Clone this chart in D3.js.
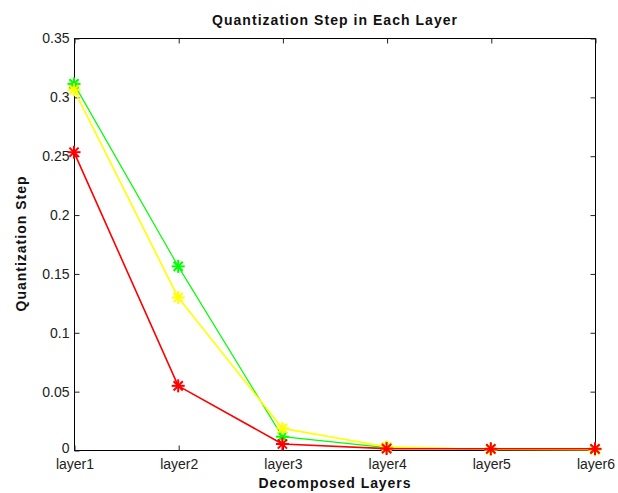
<!DOCTYPE html>
<html>
<head>
<meta charset="utf-8">
<script src="https://cdn.jsdelivr.net/npm/d3@7"></script>
<style>
  html, body { margin: 0; padding: 0; background: #fff; }
  svg { display: block; }
  text { font-family: Arial, "Liberation Sans", Helvetica, sans-serif; }
</style>
</head>
<body>
<svg id="chart" width="618" height="493"></svg>
<script>
// Layers along the x axis
const layers = ["layer1", "layer2", "layer3", "layer4", "layer5", "layer6"];
// Quantization step per layer, one array per curve
const greenSteps  = [0.311, 0.156, 0.0113, 0.0020, 0.0008, 0.0005];
const yellowSteps = [0.306, 0.1295, 0.0184, 0.0028, 0.0004, 0.0003];
const redSteps    = [0.253, 0.0545, 0.0051, 0.0012, 0.0010, 0.0010];
const yTicks = [0, 0.05, 0.1, 0.15, 0.2, 0.25, 0.3, 0.35];

const series = [
  { values: greenSteps,  color: "#00ff00", width: 1.2 },
  { values: yellowSteps, color: "#ffff00", width: 1.6 },
  { values: redSteps,    color: "#ff0000", width: 1.6 }
];

const margin = { left: 74, right: 23, top: 38, bottom: 43 };
const W = 618, H = 493;
const svg = d3.select("#chart");

const x = d3.scalePoint().domain(layers).range([margin.left, W - margin.right]);
const y = d3.scaleLinear().domain([0, 0.35]).range([H - margin.bottom, margin.top]);

const plotL = margin.left, plotR = W - margin.right, plotT = margin.top, plotB = H - margin.bottom;

// Axes box
svg.append("rect")
  .attr("x", plotL + 0.5).attr("y", plotT + 0.5)
  .attr("width", plotR - plotL).attr("height", plotB - plotT)
  .attr("fill", "#fff").attr("stroke", "#000").attr("stroke-width", 1);

const tickLen = 5;
const tickCol = "#222";
const tickFont = 14;

// Bottom axis labels and ticks (inward, mirrored at top)
const bottomAxis = svg.append("g").attr("transform", `translate(0.5,${plotB + 0.5})`)
  .call(d3.axisBottom(x).tickSizeInner(-tickLen).tickSizeOuter(0).tickPadding(4));
bottomAxis.select(".domain").remove();
bottomAxis.selectAll("text").attr("font-size", tickFont).attr("fill", "#222")
  .attr("dy", "0.71em").attr("y", 9);
bottomAxis.selectAll("line").attr("stroke", tickCol);

const topAxis = svg.append("g").attr("transform", `translate(0.5,${plotT + 0.5})`)
  .call(d3.axisTop(x).tickSizeInner(-tickLen).tickSizeOuter(0).tickFormat(""));
topAxis.select(".domain").remove();
topAxis.selectAll("line").attr("stroke", tickCol);

// Left axis with labels, right axis mirrored ticks only
const leftAxis = svg.append("g").attr("transform", `translate(${plotL + 0.5},0.5)`)
  .call(d3.axisLeft(y).tickValues(yTicks).tickSizeInner(-tickLen).tickSizeOuter(0)
    .tickPadding(4).tickFormat(d => String(+d.toFixed(2))));
leftAxis.select(".domain").remove();
leftAxis.selectAll("text").attr("font-size", tickFont).attr("fill", "#222").attr("x", -5)
  // the zero label sits right above the first category label, so lift it a touch
  .attr("y", d => (d === 0 ? -2 : 0));
leftAxis.selectAll("line").attr("stroke", tickCol);

const rightAxis = svg.append("g").attr("transform", `translate(${plotR + 0.5},0.5)`)
  .call(d3.axisRight(y).tickValues(yTicks).tickSizeInner(-tickLen).tickSizeOuter(0).tickFormat(""));
rightAxis.select(".domain").remove();
rightAxis.selectAll("line").attr("stroke", tickCol);

// Curves
const line = d3.line().x((d, i) => x(layers[i])).y(d => y(d));

const asterisk = (g, cx, cy, color) => {
  const r = 6.5;
  const star = g.append("g").attr("transform", `translate(${cx},${cy})`)
    .attr("stroke", color).attr("stroke-width", 2).attr("stroke-linecap", "butt");
  [0, 45, 90, 135].forEach(a => {
    const rad = a * Math.PI / 180;
    star.append("line")
      .attr("x1", -r * Math.cos(rad)).attr("y1", -r * Math.sin(rad))
      .attr("x2", r * Math.cos(rad)).attr("y2", r * Math.sin(rad));
  });
};

series.forEach(s => {
  const g = svg.append("g");
  g.append("path")
    .attr("d", line(s.values))
    .attr("fill", "none")
    .attr("stroke", s.color)
    .attr("stroke-width", s.width)
    .attr("stroke-linejoin", "round");
  s.values.forEach((v, i) => asterisk(g, x(layers[i]), y(v), s.color));
});

// Titles
svg.append("text")
  .attr("x", (plotL + plotR) / 2).attr("y", 25)
  .attr("text-anchor", "middle")
  .attr("font-size", 14).attr("font-weight", "bold").attr("fill", "#111")
  .attr("textLength", 245).attr("lengthAdjust", "spacing")
  .text("Quantization Step in Each Layer");

svg.append("text")
  .attr("x", (plotL + plotR) / 2).attr("y", 488)
  .attr("text-anchor", "middle")
  .attr("font-size", 14).attr("font-weight", "bold").attr("fill", "#111")
  .attr("textLength", 152).attr("lengthAdjust", "spacing")
  .text("Decomposed Layers");

svg.append("text")
  .attr("transform", `translate(26,${(plotT + plotB) / 2}) rotate(-90)`)
  .attr("text-anchor", "middle")
  .attr("font-size", 14).attr("font-weight", "bold").attr("fill", "#111")
  .attr("textLength", 135).attr("lengthAdjust", "spacing")
  .text("Quantization Step");
</script>
</body>
</html>
